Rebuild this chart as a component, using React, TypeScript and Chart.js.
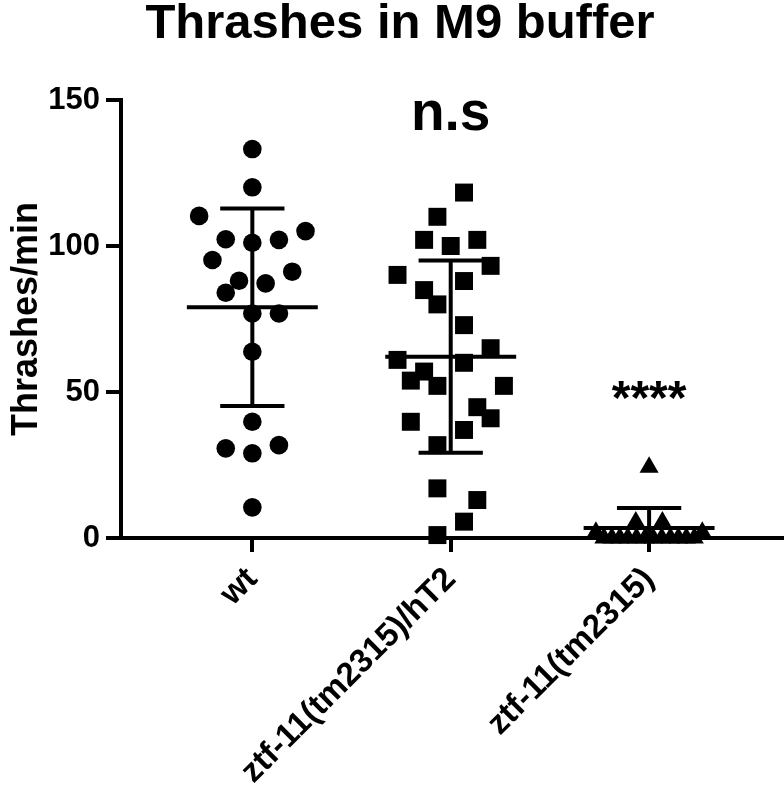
import React, { useEffect, useRef } from "react";
import { Chart, registerables } from "chart.js";

Chart.register(...registerables);

const chartTitle = "Thrashes in M9 buffer";
const yAxisTitle = "Thrashes/min";
const categories = ["wt", "ztf-11(tm2315)/hT2", "ztf-11(tm2315)"];
const yTicks = [0, 50, 100, 150];

// wt (circles)
const wtValues = [133.2, 120.1, 110.3, 105.1, 102.3, 101.1, 102.1, 95.2, 91.2, 88.1, 87.2, 84.0, 76.9, 76.9, 63.8, 39.8, 30.7, 29.0, 31.8, 10.5];
const wtSpread = [0, 0, -4, 4, -2, 0, 2, -3, 3, -1, 1, -2, 0, 2, 0, 0, -2, 0, 2, 0];

// ztf-11(tm2315)/hT2 (squares)
const hetValues = [118.3, 110.0, 102.1, 100.0, 102.1, 93.2, 90.1, 88.0, 84.9, 80.0, 72.9, 65.0, 61.0, 60.0, 57.0, 53.9, 52.1, 52.1, 44.8, 41.0, 39.8, 37.0, 31.8, 17.0, 13.0, 5.6, 1.0];
const hetSpread = [1, -1, -2, 0, 2, 3, -4, 1, -2, -1, 1, 3, -4, 1, -2, -3, -1, 4, 2, 3, -3, 1, -1, -1, 2, 1, -1];

// ztf-11(tm2315) (triangles)
const mutValues = [24.2, 5.5, 5.5, 2, 2, 0, 0, 0, 0, 0, 0, 0, 0, 0, 0, 0, 0];
const mutSpread = [0, -1, 1, -4, 4, -3.4, -2.8, -2.2, -1.6, -0.95, -0.3, 0.3, 0.95, 1.6, 2.2, 2.8, 3.4];

const groupMeans = [79.0, 62.1, 3.4];
const groupSD = [33.8, 32.9, 6.9];

const annotationTexts = ["n.s", "****"];
const annotationCategory = [2, 3];
const annotationValue = [139.7, 42.5];
const annotationSizes = [55, 48];

const FONT = '"Liberation Sans", Arial, Helvetica, sans-serif';
const SLOT = 13.3 / 198.4;
const MEAN_HALF = 0.33;
const CAP_HALF = 0.162;

const annotationPlugin = {
  id: "annotationTexts",
  afterDatasetsDraw(chart: any) {
    const { ctx, scales } = chart;
    const xs = scales.x;
    const ys = scales.y;
    ctx.save();
    ctx.fillStyle = "#000";
    ctx.textAlign = "center";
    ctx.textBaseline = "alphabetic";
    annotationTexts.forEach((t, i) => {
      ctx.font = `bold ${annotationSizes[i]}px ${FONT}`;
      ctx.fillText(t, xs.getPixelForValue(annotationCategory[i]), ys.getPixelForValue(annotationValue[i]));
    });
    ctx.restore();
  },
};

export default function App() {
  const ref = useRef<HTMLCanvasElement>(null);

  useEffect(() => {
    document.body.style.margin = "0";
    const canvas = ref.current;
    if (!canvas) return;

    const toPoints = (vals: number[], spread: number[], c: number) =>
      vals.map((v, i) => ({ x: c + spread[i] * SLOT, y: v }));

    const seg = (pts: { x: number; y: number }[]) => ({
      data: pts,
      showLine: true,
      borderColor: "#000",
      backgroundColor: "#000",
      borderWidth: 4,
      pointRadius: 0,
      borderCapStyle: "butt",
      order: 0,
    });

    const bars: any[] = [];
    groupMeans.forEach((m, i) => {
      const c = i + 1;
      const sd = groupSD[i];
      bars.push(seg([{ x: c - MEAN_HALF, y: m }, { x: c + MEAN_HALF, y: m }]));
      bars.push(seg([{ x: c - CAP_HALF, y: m + sd }, { x: c + CAP_HALF, y: m + sd }]));
      bars.push(seg([{ x: c - CAP_HALF, y: m - sd }, { x: c + CAP_HALF, y: m - sd }]));
      bars.push(seg([{ x: c, y: m - sd }, { x: c, y: m + sd }]));
    });

    const markers = (data: any[], style: string, radius: number) => ({
      data,
      pointStyle: style,
      pointRadius: radius,
      pointBackgroundColor: "#000",
      pointBorderWidth: 0,
      pointBorderColor: "#000",
      showLine: false,
      clip: false,
      order: 1,
    });

    const chart = new Chart(canvas, {
      type: "scatter",
      data: {
        datasets: [
          ...bars,
          markers(toPoints(wtValues, wtSpread, 1), "circle", 9.3),
          markers(toPoints(hetValues, hetSpread, 2), "rect", 12.7),
          markers(toPoints(mutValues, mutSpread, 3), "triangle", 11),
        ],
      },
      options: {
        responsive: false,
        animation: false,
        devicePixelRatio: 1,
        layout: { autoPadding: false, padding: { left: 16, right: 0, top: 0, bottom: 0 } },
        plugins: {
          legend: { display: false },
          tooltip: { enabled: false },
          title: {
            display: true,
            text: chartTitle,
            color: "#000",
            font: { family: FONT, size: 49, weight: "bold", lineHeight: 1 },
            padding: { top: 0, bottom: 51 },
          },
        },
        scales: {
          x: {
            type: "linear",
            min: 0.338,
            max: 3.68,
            afterBuildTicks: (scale: any) => {
              scale.ticks = categories.map((_, i) => ({ value: i + 1 }));
            },
            afterFit: (scale: any) => {
              scale.height = 251;
              scale.paddingRight = 0;
              scale.paddingLeft = 0;
            },
            ticks: {
              autoSkip: false,
              minRotation: 45,
              maxRotation: 45,
              padding: 8,
              color: "#000",
              font: { family: FONT, size: 33, weight: "bold" },
              callback: (v: any) => categories[Math.round(Number(v)) - 1] ?? "",
            },
            grid: {
              display: true,
              drawOnChartArea: false,
              drawTicks: true,
              tickLength: 14,
              tickWidth: 4,
              tickColor: "#000",
              lineWidth: 4,
              color: "#000",
            },
            border: { display: true, color: "#000", width: 4 },
          },
          y: {
            type: "linear",
            min: 0,
            max: 150,
            afterBuildTicks: (scale: any) => {
              scale.ticks = yTicks.map((v) => ({ value: v }));
            },
            afterFit: (scale: any) => {
              scale.width = 105;
            },
            ticks: {
              padding: 6,
              color: "#000",
              font: { family: FONT, size: 31, weight: "bold" },
            },
            grid: {
              display: true,
              drawOnChartArea: false,
              drawTicks: true,
              tickLength: 15,
              tickWidth: 4,
              tickColor: "#000",
              lineWidth: 4,
              color: "#000",
            },
            border: { display: true, color: "#000", width: 4 },
            title: {
              display: true,
              text: yAxisTitle,
              color: "#000",
              font: { family: FONT, size: 36, weight: "bold", lineHeight: 1 },
              padding: { top: -7, bottom: 0 },
            },
          },
        },
      },
      plugins: [annotationPlugin],
    } as any);

    return () => chart.destroy();
  }, []);

  return (
    <div style={{ width: 784, height: 789 }}>
      <canvas ref={ref} width={784} height={789} style={{ display: "block" }} />
    </div>
  );
}
